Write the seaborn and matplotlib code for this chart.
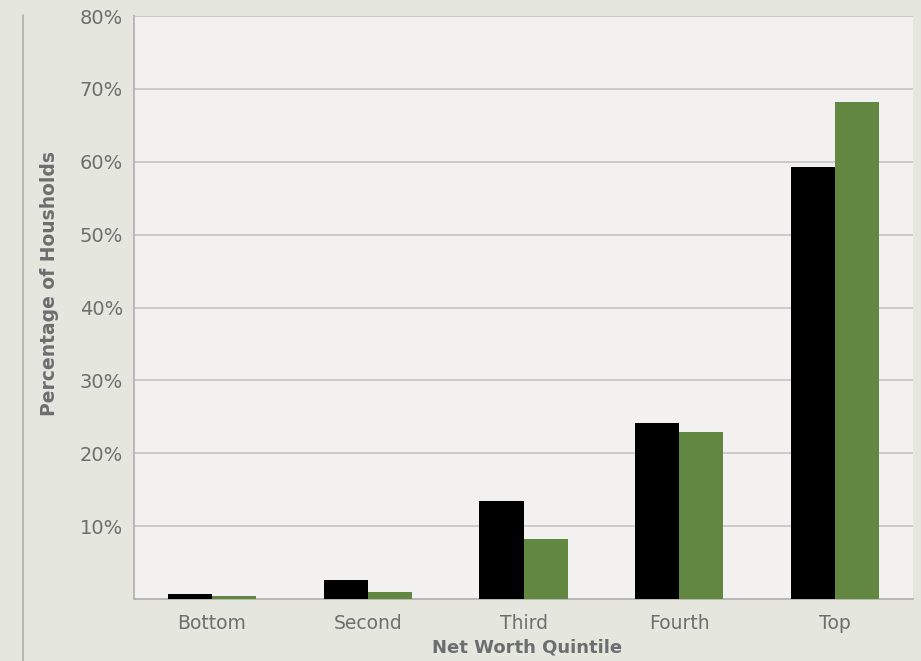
import matplotlib
matplotlib.use("Agg")
import matplotlib.pyplot as plt
import seaborn as sns
import pandas as pd
from matplotlib.ticker import FuncFormatter
from matplotlib.lines import Line2D

categories = ["Bottom", "Second", "Third", "Fourth", "Top"]
series_names = ["Series A", "Series B"]
values_a = [0.7, 2.6, 13.4, 24.1, 59.3]
values_b = [0.4, 1.0, 8.2, 22.9, 68.2]
yticks = [10, 20, 30, 40, 50, 60, 70, 80]

df = pd.DataFrame({
    "Quintile": categories * 2,
    "Series": [series_names[0]] * 5 + [series_names[1]] * 5,
    "Value": values_a + values_b,
})

outer_bg = "#e5e6dd"
inner_bg = "#f2f1ef"
text_c = "#6d6e70"

sns.set_theme(style="white")
plt.rcParams["font.family"] = ["DejaVu Sans"]

fig = plt.figure(figsize=(9.21, 6.61), dpi=100, facecolor=outer_bg)
ax = fig.add_axes([134/921, 1 - 599/661, (913-134)/921, (599-16)/661])
ax.set_facecolor(inner_bg)

sns.barplot(data=df, x="Quintile", y="Value", hue="Series",
            palette=["#000000", "#628740"], width=0.566, saturation=1,
            ax=ax, legend=False, zorder=3)
for p in ax.patches:
    p.set_edgecolor("none")

ax.set_ylim(0, 80)
ax.set_yticks(yticks)
ax.yaxis.set_major_formatter(FuncFormatter(lambda v, _: f"{int(v)}%"))
ax.grid(axis="y", color="#c8c8c8", linewidth=1.3, zorder=0)
ax.set_axisbelow(True)
for s in ["top", "right"]:
    ax.spines[s].set_visible(False)
for s in ["left", "bottom"]:
    ax.spines[s].set_color("#b4b4b4")
    ax.spines[s].set_linewidth(1.3)
ax.tick_params(axis="both", length=0, colors=text_c)
for lab in ax.get_yticklabels():
    lab.set_fontsize(14)
    lab.set_color(text_c)
for lab in ax.get_xticklabels():
    lab.set_fontsize(13.5)
    lab.set_color(text_c)
ax.tick_params(axis="y", pad=8)
ax.tick_params(axis="x", pad=11)

ax.set_xlabel("Net Worth Quintile", fontsize=13, fontweight="bold", color=text_c)
ax.set_ylabel("Percentage of Housholds", fontsize=13.5, fontweight="bold", color=text_c)
ax.xaxis.set_label_coords(0.505, -0.084)
ax.yaxis.set_label_coords(-0.109, 0.542)
ax.yaxis.label.set_verticalalignment("center")
ax.xaxis.label.set_verticalalignment("center")

fig.add_artist(Line2D([23/921, 23/921], [0, 1 - 15/661], color="#b4b4b4", linewidth=1.3))

fig.savefig("out.png", dpi=100, facecolor=outer_bg)
